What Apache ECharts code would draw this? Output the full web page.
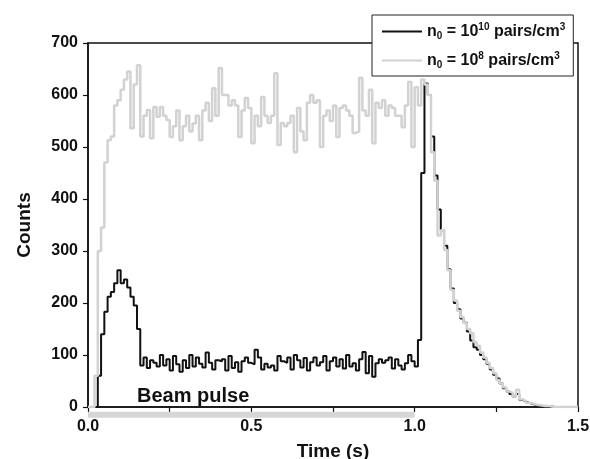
<!DOCTYPE html>
<html>
<head>
<meta charset="utf-8">
<script src="https://cdn.jsdelivr.net/npm/echarts@6/dist/echarts.min.js"></script>
<style>
html, body { margin: 0; padding: 0; background: #fff; }
#chart { width: 590px; height: 459px; }
</style>
</head>
<body>
<div id="chart"></div>
<script>
// bin width of the time histogram (s)
const binWidth = 0.01

// counts per bin, n0 = 1e10 pairs/cm3 (black)
const counts10 = [
    0, 0, 0, 60, 140, 183, 212, 221, 238, 263,
    238, 245, 230, 212, 195, 150, 80, 95, 75, 90,
    85, 78, 100, 80, 92, 70, 98, 82, 68, 90,
    75, 100, 78, 95, 83, 76, 105, 85, 72, 90,
    88, 92, 70, 98, 75, 86, 68, 88, 95, 85,
    82, 110, 95, 72, 83, 76, 80, 70, 98, 88,
    85, 95, 72, 100, 90, 76, 94, 70, 86, 95,
    80, 86, 98, 70, 88, 95, 78, 92, 74, 100,
    78, 84, 70, 92, 106, 65, 98, 58, 84, 92,
    85, 90, 95, 74, 92, 80, 72, 84, 100, 88,
    78, 129, 450, 622, 600, 520, 445, 380, 340, 310,
    265, 228, 200, 188, 170, 162, 145, 128, 115, 110,
    100, 92, 83, 72, 62, 55, 45, 36, 30, 25,
    20, 25, 14, 11, 8, 6, 4, 3, 2, 2,
    1, 1, 0, 0, 0, 0, 0, 0, 0, 0, 0
]

// counts per bin, n0 = 1e8 pairs/cm3 (grey)
const counts8 = [
    0, 0, 60, 300, 345, 470, 513, 520, 580, 590,
    610, 630, 645, 536, 620, 657, 520, 560, 571, 517,
    577, 558, 577, 560, 552, 519, 540, 570, 513, 540,
    560, 530, 545, 560, 513, 570, 585, 550, 613, 560,
    652, 600, 600, 580, 590, 580, 519, 570, 594, 575,
    507, 560, 540, 596, 560, 546, 560, 642, 504, 546,
    540, 546, 560, 490, 575, 530, 513, 585, 600, 585,
    590, 500, 560, 570, 550, 580, 519, 575, 580, 570,
    560, 527, 530, 633, 570, 560, 610, 507, 585, 575,
    590, 560, 580, 575, 560, 560, 538, 580, 625, 500,
    615, 580, 630, 620, 600, 490, 435, 330, 340, 302,
    263, 225, 205, 185, 173, 161, 150, 142, 125, 118,
    105, 95, 85, 75, 65, 52, 45, 38, 30, 27,
    20, 33, 15, 12, 8, 7, 5, 4, 3, 2,
    2, 1, 0, 0, 0, 0, 0, 0, 0, 0, 0
]

// beam on interval (s)
const beamPulse = [0.0, 1.0]

const xTicks = [0.0, 0.5, 1.0, 1.5]
const yTicks = [0, 100, 200, 300, 400, 500, 600, 700]

const font = 'Liberation Sans'
const toPairs = arr => arr.map((v, i) => [+(i * binWidth).toFixed(3), v])

const legendText = {
    n10: '{b|n}{sub|0}{b| = 10}{sup|10}{b| pairs/cm}{sup|3}',
    n8: '{b|n}{sub|0}{b| = 10}{sup|8}{b| pairs/cm}{sup|3}'
}

const chart = echarts.init(document.getElementById('chart'))

const option = {
    animation: false,
    backgroundColor: '#fff',
    grid: {
        left: 88,
        right: 12,
        top: 43,
        bottom: 52,
        containLabel: false,
        outerBoundsMode: 'none',
        show: true,
        borderColor: '#111',
        borderWidth: 1.5
    },
    legend: {
        data: ['n10', 'n8'],
        orient: 'vertical',
        left: 372,
        top: 15,
        padding: [7, 8, 6, 10],
        itemGap: 10,
        itemWidth: 40,
        itemHeight: 2,
        icon: 'rect',
        backgroundColor: '#fff',
        borderColor: '#222',
        borderWidth: 1,
        formatter: name => legendText[name],
        textStyle: {
            color: '#111',
            rich: {
                b: { fontFamily: font, fontWeight: 'bold', fontSize: 16, color: '#111' },
                sub: { fontFamily: font, fontWeight: 'bold', fontSize: 10, color: '#111', padding: [9, 0, 0, 0] },
                sup: { fontFamily: font, fontWeight: 'bold', fontSize: 10, color: '#111', padding: [0, 0, 9, 0] }
            }
        }
    },
    xAxis: {
        type: 'value',
        min: xTicks[0],
        max: xTicks[xTicks.length - 1],
        interval: 0.5,
        name: 'Time (s)',
        nameLocation: 'middle',
        nameGap: 35,
        nameTextStyle: { fontFamily: font, fontWeight: 'bold', fontSize: 19, color: '#111' },
        axisLine: { lineStyle: { color: '#111', width: 1.5 } },
        axisTick: { show: true, length: 5, lineStyle: { color: '#111', width: 1.2 } },
        minorTick: { show: true, splitNumber: 2, length: 5, lineStyle: { color: '#111', width: 1.2 } },
        splitLine: { show: false },
        axisLabel: {
            margin: 12,
            fontFamily: font,
            fontWeight: 'bold',
            fontSize: 16,
            color: '#111',
            formatter: v => v.toFixed(1)
        }
    },
    yAxis: {
        type: 'value',
        min: yTicks[0],
        max: yTicks[yTicks.length - 1],
        interval: 100,
        name: 'Counts',
        nameLocation: 'middle',
        nameGap: 54,
        nameTextStyle: { fontFamily: font, fontWeight: 'bold', fontSize: 19, color: '#111' },
        axisLine: { show: true, lineStyle: { color: '#111', width: 1.5 } },
        axisTick: { show: true, length: 5, lineStyle: { color: '#111', width: 1.2 } },
        splitLine: { show: false },
        axisLabel: { margin: 10, fontFamily: font, fontWeight: 'bold', fontSize: 16, color: '#111' }
    },
    graphic: [{
        type: 'text',
        left: 137,
        top: 386,
        style: { text: 'Beam pulse', font: 'bold 20px "Liberation Sans"', fill: '#111' }
    }],
    series: [
        {
            name: 'n10',
            type: 'line',
            step: 'end',
            symbol: 'none',
            data: toPairs(counts10),
            lineStyle: { color: '#111', width: 2 },
            itemStyle: { color: '#111' },
            z: 3
        },
        {
            name: 'n8',
            type: 'line',
            step: 'end',
            symbol: 'none',
            data: toPairs(counts8),
            lineStyle: { color: '#d2d2d2', width: 2.5 },
            itemStyle: { color: '#d2d2d2' },
            z: 4
        },
        {
            // beam pulse marker just under the time axis
            name: 'beam',
            type: 'line',
            symbol: 'none',
            clip: false,
            silent: true,
            data: beamPulse.map(t => [t, -15]),
            lineStyle: { color: '#d6d6d6', width: 6, cap: 'butt' },
            z: 2
        }
    ]
}

chart.setOption(option)
</script>
</body>
</html>
